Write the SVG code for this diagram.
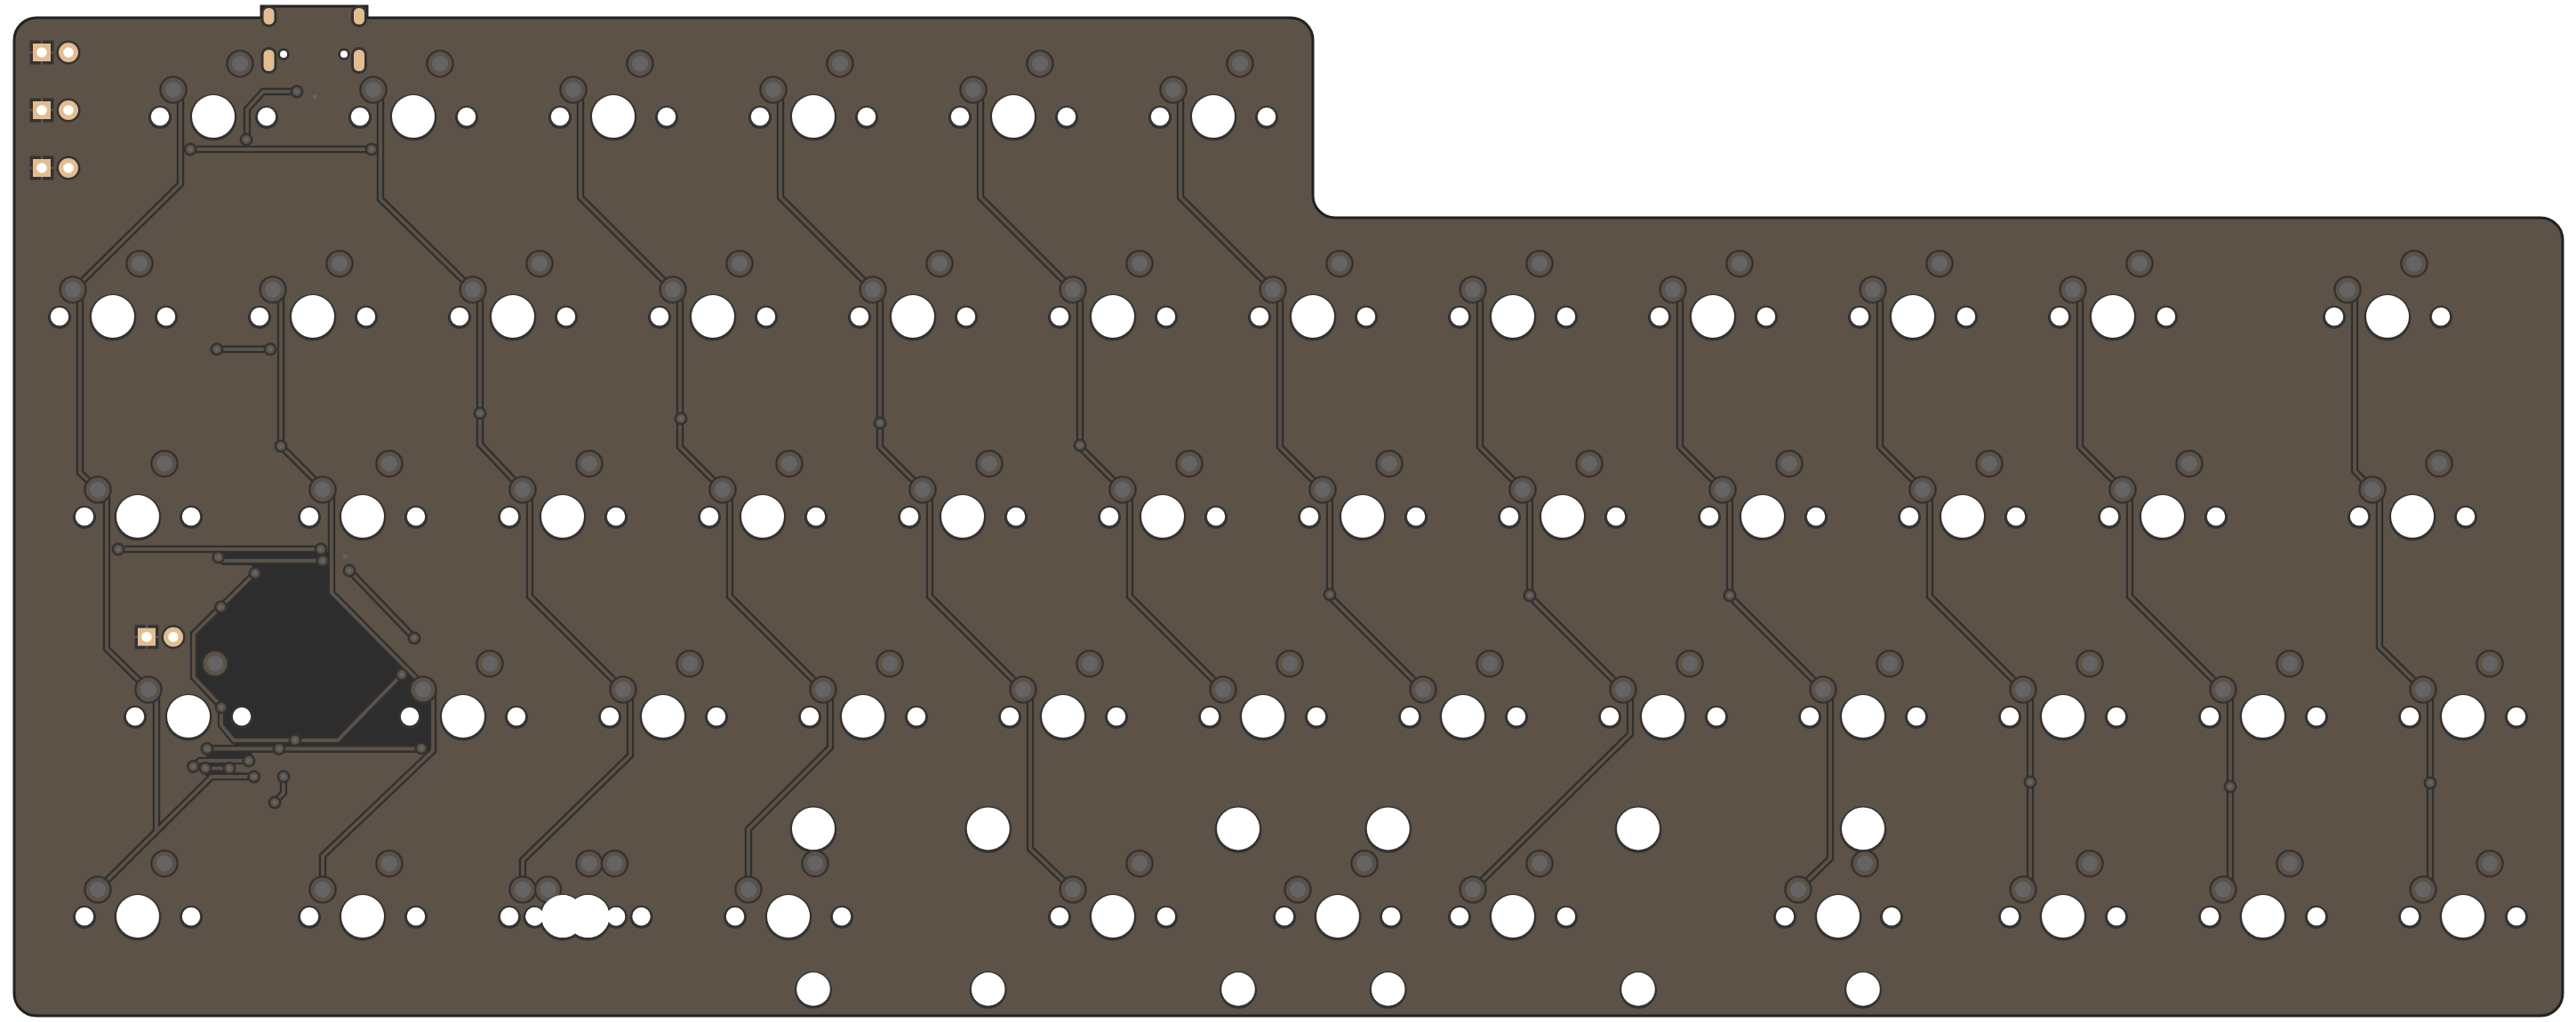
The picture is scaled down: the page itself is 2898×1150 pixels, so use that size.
<svg xmlns="http://www.w3.org/2000/svg" width="2898" height="1150" viewBox="0 0 2898 1150">
<style>
svg{background:#fff}
.board{fill:#5c5247;stroke:#222;stroke-width:3}
.zone{fill:#2d2d2d}
.tro,.tri{fill:none;stroke-linejoin:miter;stroke-linecap:butt}
.tro{stroke:#303030;stroke-width:8.4}
.tri{stroke:#5c5247;stroke-width:3.8}
.dk{fill:#333}
.wh{fill:#fff}
.pd{fill:#5c5247;stroke:#333;stroke-width:2.4}
.gr{fill:#646464}
.au{fill:#e3bc8f}
.brk{stroke:#5c5247;stroke-width:2.5}
.slot{fill:#e3bc8f;stroke:#333;stroke-width:3}
</style>
<defs>
<g id="key">
<circle class="dk" cy="0.4" r="26.4"/><circle class="wh" cy="-0.6" r="24"/>
<circle class="dk" cx="-60" cy="0.4" r="13"/><circle class="wh" cx="-60" cy="-0.4" r="10.2"/>
<circle class="dk" cx="60" cy="0.4" r="13"/><circle class="wh" cx="60" cy="-0.4" r="10.2"/>
<circle class="pd" cx="-45" cy="-30.7" r="14.6"/><circle class="gr" cx="-45" cy="-30.7" r="9"/>
<circle class="pd" cx="30" cy="-60" r="14.6"/><circle class="gr" cx="30" cy="-60" r="9"/>
</g>
<g id="stab">
<circle class="dk" cy="0.4" r="26.4"/><circle class="wh" cy="-0.6" r="24"/>
<circle class="dk" cy="181" r="21"/><circle class="wh" cy="180" r="18.8"/>
</g>
<g id="hdr">
<rect class="dk" x="-13.5" y="-13.5" width="27" height="27"/>
<path class="brk" d="M-14,0H-9M14,0H9M0,-14V-9M0,14V9"/>
<rect class="au" x="-10" y="-10" width="20" height="20"/>
<circle class="wh" r="5.8"/>
<circle class="dk" cx="30" r="13.5"/><circle class="au" cx="30" r="11"/><circle class="wh" cx="30" r="5.8"/>
</g>
<g id="via"><circle class="dk" r="7.5"/><circle fill="#5c5247" r="5"/><rect class="gr" x="-2.3" y="-2.3" width="4.6" height="4.6"/></g>
<g id="traces">
<path d="M203,101V207L85,324"/>
<path d="M90,326V532L110,551"/>
<path d="M120,551V730L167,776"/>
<path d="M176,776V935"/>
<path d="M285.7,874H238L110,1001"/>
<path d="M428,101V224L532,326"/>
<path d="M540,326V500L588,551"/>
<path d="M596,551V671L701,776"/>
<path d="M709,776V850L588,968V1001"/>
<path d="M653,101V222L757,326"/>
<path d="M765,326V503L813,551"/>
<path d="M821,551V671L926,776"/>
<path d="M934,776V841L842,933V1001"/>
<path d="M878,101V222L982,326"/>
<path d="M990,326V503L1038,551"/>
<path d="M1046,551V671L1151,776"/>
<path d="M1159,776V955L1207,1001"/>
<path d="M1103,101V222L1207,326"/>
<path d="M1215,326V503L1263,551"/>
<path d="M1271,551V671L1376,776"/>
<path d="M1328,101V222L1432,326"/>
<path d="M1440,326V503L1488,551"/>
<path d="M1496,551V671L1601,776"/>
<path d="M1665,326V503L1713,551"/>
<path d="M1721,551V671L1826,776"/>
<path d="M1834,776V826L1657,1001"/>
<path d="M1890,326V503L1938,551"/>
<path d="M1946,551V671L2051,776"/>
<path d="M2059,776V966L2023,1001"/>
<path d="M2115,326V503L2163,551"/>
<path d="M2171,551V671L2276,776"/>
<path d="M2284,776V990L2276,1001"/>
<path d="M2340,326V503L2388,551"/>
<path d="M2396,551V671L2501,776"/>
<path d="M2509,776V990L2501,1001"/>
<path d="M2649,326V530L2669,551"/>
<path d="M2677,551V728L2726,776"/>
<path d="M2734,776V990L2726,1001"/>
<path d="M316,326V502L363,549"/>
<path d="M373,551V667L468,763L476,772"/>
<path d="M487,776V845L363,963V1001"/>
<path d="M334,103H296L278,123V157"/>
<path d="M214,168H418"/>
<path d="M244,393H304"/>
<path d="M133,618H361"/>
<path d="M246,627L251,631H363"/>
<path d="M287,645L248.5,683L218,713V762L249,795V816L263,833H380L452,759"/>
<path d="M233,842.5H474"/>
<path d="M280,856H225L217,862"/>
<path d="M231,864.5H258"/>
<path d="M319,874V892L309,903"/>
<path d="M393,642L466,718"/>
</g>
</defs>
<path id="board" class="board" d="M16,45A25,25 0 0 1 41,20H294V7H413V20H1452A25,25 0 0 1 1477,45V220A25,25 0 0 0 1502,245H2858A25,25 0 0 1 2883,270V1118A25,25 0 0 1 2858,1143H41A25,25 0 0 1 16,1118Z"/>
<g id="zones">
<polygon class="zone" points="250,621 372,621 372,667 470,763 487,776 487,847 236,847 236,838 263,838 263,833 249,816 249,795 218,762 218,713 248.5,683 287,645 283,636 250,636"/>
<polygon class="zone" points="236,846 283,846 285,855 262,861 265,869 285,870 285,877 238,878 228,870 228,856"/>
</g>
<g id="connectors">
<use href="#traces" class="tro"/>
<use href="#traces" class="tri"/>
</g>
<g id="vias">
<use href="#via" x="214" y="168"/><use href="#via" x="418" y="168"/><use href="#via" x="277" y="157"/><use href="#via" x="334" y="103"/>
<use href="#via" x="244" y="393"/><use href="#via" x="304" y="393"/><use href="#via" x="133" y="618"/><use href="#via" x="361" y="618"/>
<use href="#via" x="245.7" y="627"/><use href="#via" x="363" y="631"/><use href="#via" x="287" y="645"/><use href="#via" x="248.5" y="683"/>
<use href="#via" x="249" y="796"/><use href="#via" x="332" y="832.7"/><use href="#via" x="452" y="759"/><use href="#via" x="233" y="842.5"/>
<use href="#via" x="314" y="842.5"/><use href="#via" x="474" y="842"/><use href="#via" x="280" y="856"/><use href="#via" x="217.5" y="862.5"/>
<use href="#via" x="231" y="864.5"/><use href="#via" x="258" y="864.5"/><use href="#via" x="285.7" y="874"/><use href="#via" x="319" y="874"/>
<use href="#via" x="309" y="903"/><use href="#via" x="393" y="642"/><use href="#via" x="466" y="718"/><use href="#via" x="316" y="502"/>
<use href="#via" x="540" y="465"/><use href="#via" x="766" y="471"/><use href="#via" x="990" y="476"/><use href="#via" x="1215" y="501"/>
<use href="#via" x="1496" y="669"/><use href="#via" x="1721" y="670"/><use href="#via" x="1946" y="670"/><use href="#via" x="2284" y="880"/>
<use href="#via" x="2509" y="885"/><use href="#via" x="2734" y="881"/>
<rect class="gr" x="352" y="106.5" width="4.5" height="4.5"/><rect class="gr" x="386" y="624" width="4.5" height="4.5"/>
</g>
<g id="usb">
<rect class="slot" x="295" y="7.5" width="15" height="21.5" rx="7"/><rect class="slot" x="396.5" y="7.5" width="15" height="21.5" rx="7"/>
<rect class="slot" x="295" y="54.5" width="15" height="27" rx="7"/><rect class="slot" x="396.5" y="54.5" width="15" height="27" rx="7"/>
<circle class="dk" cx="319" cy="61" r="6.8"/><circle class="wh" cx="319" cy="61" r="4"/>
<circle class="dk" cx="387" cy="61" r="6.8"/><circle class="wh" cx="387" cy="61" r="4"/>
</g>
<g id="hdr-1"><use href="#hdr" x="47" y="59"/></g>
<g id="hdr-2"><use href="#hdr" x="47" y="124"/></g>
<g id="hdr-3"><use href="#hdr" x="47" y="189"/></g>
<g id="hdr-4"><use href="#hdr" x="165" y="716.7"/></g>
<g id="stabs">
<use href="#stab" x="915" y="933"/><use href="#stab" x="1111.7" y="933"/><use href="#stab" x="1393" y="933"/><use href="#stab" x="1561.7" y="933"/><use href="#stab" x="1843" y="933"/><use href="#stab" x="2096" y="933"/>
</g>
<g id="row1">
<g id="k1-1"><use href="#key" x="240" y="131.7"/></g><g id="k1-2"><use href="#key" x="465" y="131.7"/></g><g id="k1-3"><use href="#key" x="690" y="131.7"/></g><g id="k1-4"><use href="#key" x="915" y="131.7"/></g><g id="k1-5"><use href="#key" x="1140" y="131.7"/></g><g id="k1-6"><use href="#key" x="1365" y="131.7"/></g>
</g>
<g id="row2">
<g id="k2-1"><use href="#key" x="127" y="356.7"/></g><g id="k2-2"><use href="#key" x="352" y="356.7"/></g><g id="k2-3"><use href="#key" x="577" y="356.7"/></g><g id="k2-4"><use href="#key" x="802" y="356.7"/></g><g id="k2-5"><use href="#key" x="1027" y="356.7"/></g><g id="k2-6"><use href="#key" x="1252" y="356.7"/></g><g id="k2-7"><use href="#key" x="1477" y="356.7"/></g><g id="k2-8"><use href="#key" x="1702" y="356.7"/></g><g id="k2-9"><use href="#key" x="1927" y="356.7"/></g><g id="k2-10"><use href="#key" x="2152" y="356.7"/></g><g id="k2-11"><use href="#key" x="2377" y="356.7"/></g><g id="k2-12"><use href="#key" x="2686" y="356.7"/></g>
</g>
<g id="row3">
<g id="k3-1"><use href="#key" x="155" y="581.7"/></g><g id="k3-2"><use href="#key" x="408" y="581.7"/></g><g id="k3-3"><use href="#key" x="633" y="581.7"/></g><g id="k3-4"><use href="#key" x="858" y="581.7"/></g><g id="k3-5"><use href="#key" x="1083" y="581.7"/></g><g id="k3-6"><use href="#key" x="1308" y="581.7"/></g><g id="k3-7"><use href="#key" x="1533" y="581.7"/></g><g id="k3-8"><use href="#key" x="1758" y="581.7"/></g><g id="k3-9"><use href="#key" x="1983" y="581.7"/></g><g id="k3-10"><use href="#key" x="2208" y="581.7"/></g><g id="k3-11"><use href="#key" x="2433" y="581.7"/></g><g id="k3-12"><use href="#key" x="2714" y="581.7"/></g>
</g>
<g id="row4">
<g id="k4-1"><use href="#key" x="212" y="806.7"/></g><g id="k4-2"><use href="#key" x="521" y="806.7"/></g><g id="k4-3"><use href="#key" x="746" y="806.7"/></g><g id="k4-4"><use href="#key" x="971" y="806.7"/></g><g id="k4-5"><use href="#key" x="1196" y="806.7"/></g><g id="k4-6"><use href="#key" x="1421" y="806.7"/></g><g id="k4-7"><use href="#key" x="1646" y="806.7"/></g><g id="k4-8"><use href="#key" x="1871" y="806.7"/></g><g id="k4-9"><use href="#key" x="2096" y="806.7"/></g><g id="k4-10"><use href="#key" x="2321" y="806.7"/></g><g id="k4-11"><use href="#key" x="2546" y="806.7"/></g><g id="k4-12"><use href="#key" x="2771" y="806.7"/></g>
</g>
<g id="row5">
<g id="k5-1"><use href="#key" x="155" y="1031.7"/></g><g id="k5-2"><use href="#key" x="408" y="1031.7"/></g><g id="k5-3"><use href="#key" x="633" y="1031.7"/></g><g id="k5-4"><use href="#key" x="661.5" y="1031.7"/></g><g id="k5-5"><use href="#key" x="887" y="1031.7"/></g><g id="k5-6"><use href="#key" x="1252" y="1031.7"/></g><g id="k5-7"><use href="#key" x="1505" y="1031.7"/></g><g id="k5-8"><use href="#key" x="1702" y="1031.7"/></g><g id="k5-9"><use href="#key" x="2068" y="1031.7"/></g><g id="k5-10"><use href="#key" x="2321" y="1031.7"/></g><g id="k5-11"><use href="#key" x="2546" y="1031.7"/></g><g id="k5-12"><use href="#key" x="2771" y="1031.7"/></g>
</g>
<g id="dual-holes">
<circle class="wh" cx="633" cy="1031.1" r="24"/><circle class="wh" cx="661.5" cy="1031.1" r="24"/>
<circle class="wh" cx="601.5" cy="1031.3" r="10.2"/><circle class="wh" cx="693" cy="1031.3" r="10.2"/>
</g>
</svg>
